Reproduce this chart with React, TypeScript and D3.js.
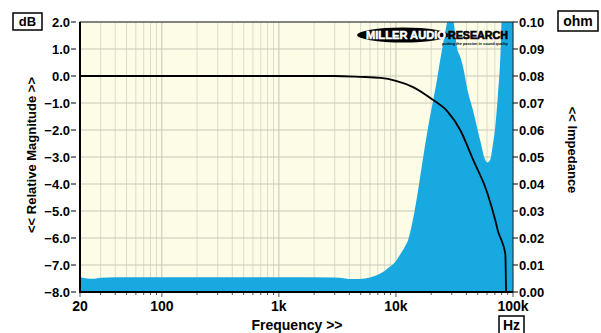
import React from 'react';
import * as d3 from 'd3';

// frequency response (dB)
const frFreq = [20, 1000, 3000, 4900, 7400, 10000, 14000, 20800, 27400, 35400, 45700, 60300, 70500, 75000, 80000, 86000, 87500];
const frDb = [0, 0, 0, -0.03, -0.07, -0.18, -0.41, -0.89, -1.3, -2.0, -3.11, -4.33, -5.33, -5.8, -6.1, -6.6, -8.6];

// impedance (ohm), blue area
const impFreq = [20, 23, 26, 30, 40, 100, 1000, 3000, 4300, 5200, 6000, 7000, 8000, 8900, 10000, 10900, 12000, 12700, 14000, 15500, 17400, 19000, 20800, 22500, 23900, 25300, 27400, 29000, 30800, 33400, 35500, 37600, 40800, 45700, 52500, 57900, 60300, 63900, 67000, 70500, 74000, 77800, 81000, 90000, 100000];
const impOhm = [0.0056, 0.005, 0.0049, 0.0053, 0.0055, 0.0055, 0.0055, 0.0054, 0.0048, 0.0049, 0.0054, 0.0064, 0.0078, 0.0094, 0.0115, 0.014, 0.017, 0.0193, 0.027, 0.038, 0.052, 0.062, 0.071, 0.079, 0.086, 0.092, 0.1, 0.104, 0.101, 0.09, 0.087, 0.083, 0.075, 0.067, 0.056, 0.049, 0.048, 0.049, 0.054, 0.061, 0.072, 0.086, 0.105, 0.115, 0.115];

const dbTicks = [2, 1, 0, -1, -2, -3, -4, -5, -6, -7, -8];
const ohmTicks = [0.1, 0.09, 0.08, 0.07, 0.06, 0.05, 0.04, 0.03, 0.02, 0.01, 0];
const freqLabels = ['20', '100', '1k', '10k', '100k'];
const freqLabelVals = [20, 100, 1000, 10000, 100000];

const W = 601, H = 333;
const L = 80, R = 513, T = 22, B = 292;
const FONT = 'Liberation Sans, Arial, sans-serif';

export default function App() {
  const x = d3.scaleLog().domain([20, 100000]).range([L, R]);
  const yDb = d3.scaleLinear().domain([-8, 2]).range([B, T]);
  const yOhm = d3.scaleLinear().domain([0, 0.1]).range([B, T]);

  const gridF: number[] = [];
  [10, 100, 1000, 10000].forEach(d => {
    for (let m = 1; m <= 9; m++) {
      const f = m * d;
      if (f >= 20 && f <= 100000) gridF.push(f);
    }
  });
  gridF.push(100000);
  const isDecade = (f: number) => [100, 1000, 10000].includes(f);

  const imp = impFreq.map((f, i) => [f, impOhm[i]] as [number, number]);
  const area = d3.area<[number, number]>()
    .x(d => x(d[0]))
    .y0(B)
    .y1(d => yOhm(d[1]))
    .curve(d3.curveMonotoneX);

  const fr = frFreq.map((f, i) => [f, frDb[i]] as [number, number]);
  const line = d3.line<[number, number]>()
    .x(d => x(d[0]))
    .y(d => yDb(d[1]))
    .curve(d3.curveMonotoneX);

  return (
    <svg width={W} height={H} style={{ position: 'absolute', left: 0, top: 0, background: '#fff' }}
      fontFamily={FONT} fontWeight="bold">
      <defs>
        <clipPath id="plot">
          <rect x={L} y={T} width={R - L} height={B - T} />
        </clipPath>
      </defs>
      <rect x={L} y={T} width={R - L} height={B - T} fill="#fdfce7" />

      {/* grid */}
      {gridF.map(f => (
        <line key={'v' + f} x1={x(f)} x2={x(f)} y1={T} y2={B}
          stroke={isDecade(f) ? '#c4c4b4' : '#dcdccb'} strokeWidth={1} />
      ))}
      {dbTicks.map(d => (
        <line key={'h' + d} x1={L} x2={R} y1={yDb(d)} y2={yDb(d)} stroke="#c8c8b8" strokeWidth={1} />
      ))}

      <g clipPath="url(#plot)">
        <path d={area(imp) || ''} fill="#19a9e1" />
        <path d={line(fr) || ''} fill="none" stroke="#000" strokeWidth={1.8} />
      </g>

      {/* logo */}
      <ellipse cx={403} cy={35} rx={46} ry={7.5} fill="#000" />
      <text x={366} y={39} fill="#fff" stroke="#fff" strokeWidth={0.5} fontSize={10} fontWeight={900} textLength={80} lengthAdjust="spacingAndGlyphs">MILLER AUDIO</text>
      <text x={448} y={39} fill="#000" stroke="#000" strokeWidth={0.6} fontSize={10} fontWeight={900} textLength={60} lengthAdjust="spacingAndGlyphs">RESEARCH</text>
      <text x={442} y={45} fill="#000" fontSize={4} textLength={66} lengthAdjust="spacingAndGlyphs">putting the passion in sound quality</text>

      {/* frame */}
      <rect x={L} y={T} width={R - L} height={B - T} fill="none" stroke="#222" strokeWidth={1} />
      <line x1={L} x2={L} y1={T} y2={B + 1} stroke="#000" strokeWidth={2} />
      <line x1={L - 1} x2={R} y1={B} y2={B} stroke="#000" strokeWidth={2} />

      {/* left axis */}
      {dbTicks.map(d => (
        <g key={'l' + d}>
          <line x1={71} x2={76} y1={yDb(d)} y2={yDb(d)} stroke="#000" strokeWidth={1} />
          <text x={70} y={yDb(d)} dy="0.36em" textAnchor="end" fontSize={13}>{d3.format('.1f')(d)}</text>
        </g>
      ))}
      {/* right axis */}
      {ohmTicks.map(d => (
        <g key={'r' + d}>
          <line x1={R} x2={R + 5} y1={yOhm(d)} y2={yOhm(d)} stroke="#000" strokeWidth={1} />
          <text x={R + 6} y={yOhm(d)} dy="0.36em" fontSize={13}>{d3.format('.2f')(d)}</text>
        </g>
      ))}
      {/* bottom axis */}
      {gridF.map(f => (
        <line key={'t' + f} x1={x(f)} x2={x(f)} y1={B + 1} y2={B + (isDecade(f) || f === 20 || f === 100000 ? 5 : 3)}
          stroke="#555" strokeWidth={1} />
      ))}
      {freqLabels.map((s, i) => (
        <text key={s} x={x(freqLabelVals[i])} y={311} textAnchor="middle" fontSize={14}>{s}</text>
      ))}

      {/* titles */}
      <text x={297} y={330} textAnchor="middle" fontSize={14}>Frequency &gt;&gt;</text>
      <text transform="translate(36,155) rotate(-90)" textAnchor="middle" fontSize={13}>&lt;&lt; Relative Magnitude &gt;&gt;</text>
      <text transform="translate(568,150) rotate(90)" textAnchor="middle" fontSize={13}>&lt;&lt; Impedance</text>

      {/* unit boxes */}
      <rect x={13} y={13} width={29} height={17} fill="#fff" stroke="#000" strokeWidth={1.5} />
      <text x={27.5} y={26} textAnchor="middle" fontSize={13}>dB</text>
      <rect x={558} y={11} width={40} height={20} fill="#fff" stroke="#000" strokeWidth={1.5} />
      <text x={578} y={26} textAnchor="middle" fontSize={14}>ohm</text>
      <rect x={499} y={316} width={25} height={18} fill="#fff" stroke="#000" strokeWidth={1.5} />
      <text x={511.5} y={330} textAnchor="middle" fontSize={14}>Hz</text>
    </svg>
  );
}
